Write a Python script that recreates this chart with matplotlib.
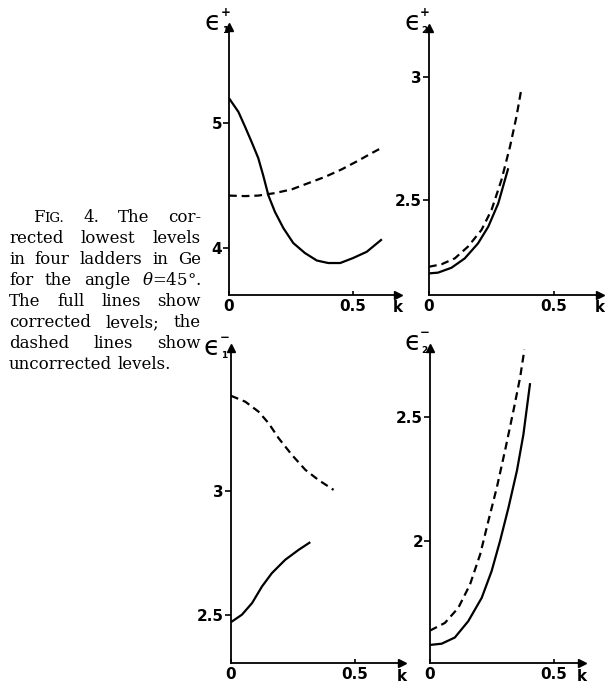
import numpy as np
import matplotlib.pyplot as plt

plt.rcParams['mathtext.fontset'] = 'dejavuserif'

W, H = 605, 689

# corrected (full) and uncorrected (dashed) lowest levels for each ladder
k_e1p_full = [0.0, 0.038, 0.065, 0.091, 0.118, 0.138, 0.159, 0.185, 0.219, 0.259, 0.306, 0.354, 0.40, 0.448, 0.50, 0.555, 0.616]
e1p_full = [5.20, 5.09, 4.97, 4.85, 4.72, 4.58, 4.42, 4.29, 4.16, 4.04, 3.96, 3.90, 3.88, 3.88, 3.92, 3.97, 4.07]
k_e1p_dash = [0.0, 0.065, 0.118, 0.185, 0.253, 0.32, 0.387, 0.454, 0.521, 0.575, 0.622]
e1p_dash = [4.42, 4.416, 4.42, 4.44, 4.47, 4.52, 4.57, 4.63, 4.70, 4.76, 4.81]

k_e2p_full = [0.0, 0.036, 0.09, 0.143, 0.196, 0.237, 0.277, 0.317]
e2p_full = [2.201, 2.204, 2.224, 2.262, 2.323, 2.391, 2.486, 2.629]
k_e2p_dash = [0.0, 0.05, 0.103, 0.156, 0.21, 0.25, 0.29, 0.324, 0.35, 0.37]
e2p_dash = [2.228, 2.238, 2.262, 2.31, 2.378, 2.459, 2.582, 2.717, 2.84, 2.955]

k_e1m_full = [0.0, 0.044, 0.085, 0.125, 0.165, 0.219, 0.273, 0.32]
e1m_full = [2.47, 2.50, 2.547, 2.614, 2.668, 2.722, 2.762, 2.793]
k_e1m_dash = [0.0, 0.058, 0.111, 0.152, 0.192, 0.246, 0.30, 0.353, 0.414]
e1m_dash = [3.384, 3.36, 3.32, 3.273, 3.213, 3.145, 3.085, 3.044, 3.004]

k_e2m_full = [0.0, 0.047, 0.10, 0.154, 0.208, 0.248, 0.282, 0.316, 0.35, 0.376, 0.403]
e2m_full = [1.58, 1.585, 1.61, 1.676, 1.77, 1.878, 2.0, 2.135, 2.284, 2.43, 2.638]
k_e2m_dash = [0.0, 0.06, 0.114, 0.161, 0.202, 0.235, 0.269, 0.302, 0.336, 0.363, 0.38]
e2m_dash = [1.638, 1.669, 1.73, 1.824, 1.946, 2.081, 2.216, 2.365, 2.527, 2.662, 2.773]

panels = [
    # pixel box (l, r, bottom, top), k max, e limits, yticks, labels, sub, sup, label spot
    ((229, 398, 295, 27), 0.681, (3.624, 5.77), [4, 5], ['4', '5'], '1', '+', (205, 30),
     (k_e1p_full, e1p_full, k_e1p_dash, e1p_dash)),
    ((429, 600, 295, 28), 0.684, (2.113, 3.20), [2.5, 3], ['2.5', '3'], '2', '+', (404, 30),
     (k_e2p_full, e2p_full, k_e2p_dash, e2p_dash)),
    ((231, 402, 663, 348), 0.69, (2.305, 3.577), [2.5, 3], ['2.5', '3'], '1', '\u2212', (204, 355),
     (k_e1m_full, e1m_full, k_e1m_dash, e1m_dash)),
    ((430, 582, 663, 348), 0.612, (1.507, 2.78), [2, 2.5], ['2', '2.5'], '2', '\u2212', (404, 350),
     (k_e2m_full, e2m_full, k_e2m_dash, e2m_dash)),
]

fig = plt.figure(figsize=(W / 100, H / 100), dpi=100)
fig.patch.set_facecolor('white')

tick_font = dict(family='DejaVu Sans', weight='bold', size=11)

def fxy(x, y):
    return x / W, 1 - y / H

for (l, r, b, t), xmax, ylim, yt, ytl, sub, sup, (lx, ly), (kf, ef, kd, ed) in panels:
    ax = fig.add_axes([l / W, 1 - b / H, (r - l) / W, (b - t) / H])
    ax.plot(kf, ef, color='black', lw=1.6, solid_capstyle='butt')
    ax.plot(kd, ed, color='black', lw=1.6, linestyle=(0, (3.5, 2.2)))
    ax.set_xlim(0, xmax)
    ax.set_ylim(*ylim)
    for s in ['top', 'right']:
        ax.spines[s].set_visible(False)
    for s in ['left', 'bottom']:
        ax.spines[s].set_linewidth(1.3)
    ax.plot(1, 0, '>k', ms=6, transform=ax.transAxes, clip_on=False)
    ax.plot(0, 1, '^k', ms=6, transform=ax.transAxes, clip_on=False)
    ax.set_yticks(yt)
    ax.set_yticklabels(ytl, fontdict=tick_font)
    ax.set_xticks([0, 0.5])
    ax.set_xticklabels(['0', '0.5'], fontdict=tick_font)
    ax.tick_params(axis='y', direction='out', length=4, width=1.2, pad=1)
    ax.tick_params(axis='x', direction='in', length=3, width=1.2, pad=3)
    ax.text(1.0, -0.02, 'k', transform=ax.transAxes, ha='center', va='top', **tick_font)
    # axis name: lunate epsilon with ladder index and sign
    fig.text(*fxy(lx, ly), '\u03f5', fontsize=19, family='DejaVu Sans', va='baseline')
    fig.text(*fxy(lx + 17, ly + 3), sub, fontsize=6.5, family='DejaVu Sans', weight='bold', va='baseline')
    fig.text(*fxy(lx + 16, ly - 14), sup, fontsize=8.5, family='DejaVu Sans', weight='bold', va='baseline')

# caption, justified line by line
renderer = fig.canvas.get_renderer()
serif = 'DejaVu Serif'
fs = 12

def put_line(words, base, x0, x1, justify=True):
    pieces = []
    widths = []
    for word in words:
        objs = []
        wsum = 0
        for txt, size in word:
            tt = fig.text(0, 1 - base / H, txt, fontsize=size, family=serif, va='baseline')
            w = tt.get_window_extent(renderer).width
            objs.append((tt, w))
            wsum += w
        pieces.append(objs)
        widths.append(wsum)
    if justify and len(words) > 1:
        gap = (x1 - x0 - sum(widths)) / (len(words) - 1)
    else:
        gap = 5
    x = x0
    for objs in pieces:
        for tt, w in objs:
            tt.set_x(x / W)
            x += w
        x += gap

caption = [
    ([[('F', fs), ('IG.', fs * 0.8)], [('4.', fs)], [('The', fs)], [('cor-', fs)]], 33, True),
    ([[('rected', fs)], [('lowest', fs)], [('levels', fs)]], 9, True),
    ([[('in', fs)], [('four', fs)], [('ladders', fs)], [('in', fs)], [('Ge', fs)]], 9, True),
    ([[('for', fs)], [('the', fs)], [('angle', fs)], [(r'$\theta$=45°.', fs)]], 9, True),
    ([[('The', fs)], [('full', fs)], [('lines', fs)], [('show', fs)]], 9, True),
    ([[('corrected', fs)], [('levels;', fs)], [('the', fs)]], 9, True),
    ([[('dashed', fs)], [('lines', fs)], [('show', fs)]], 9, True),
    ([[('uncorrected', fs)], [('levels.', fs)]], 9, False),
]
for i, (words, x0, just) in enumerate(caption):
    put_line(words, 222 + 21 * i, x0, 201, just)

fig.savefig('out.png', dpi=100, facecolor='white')
